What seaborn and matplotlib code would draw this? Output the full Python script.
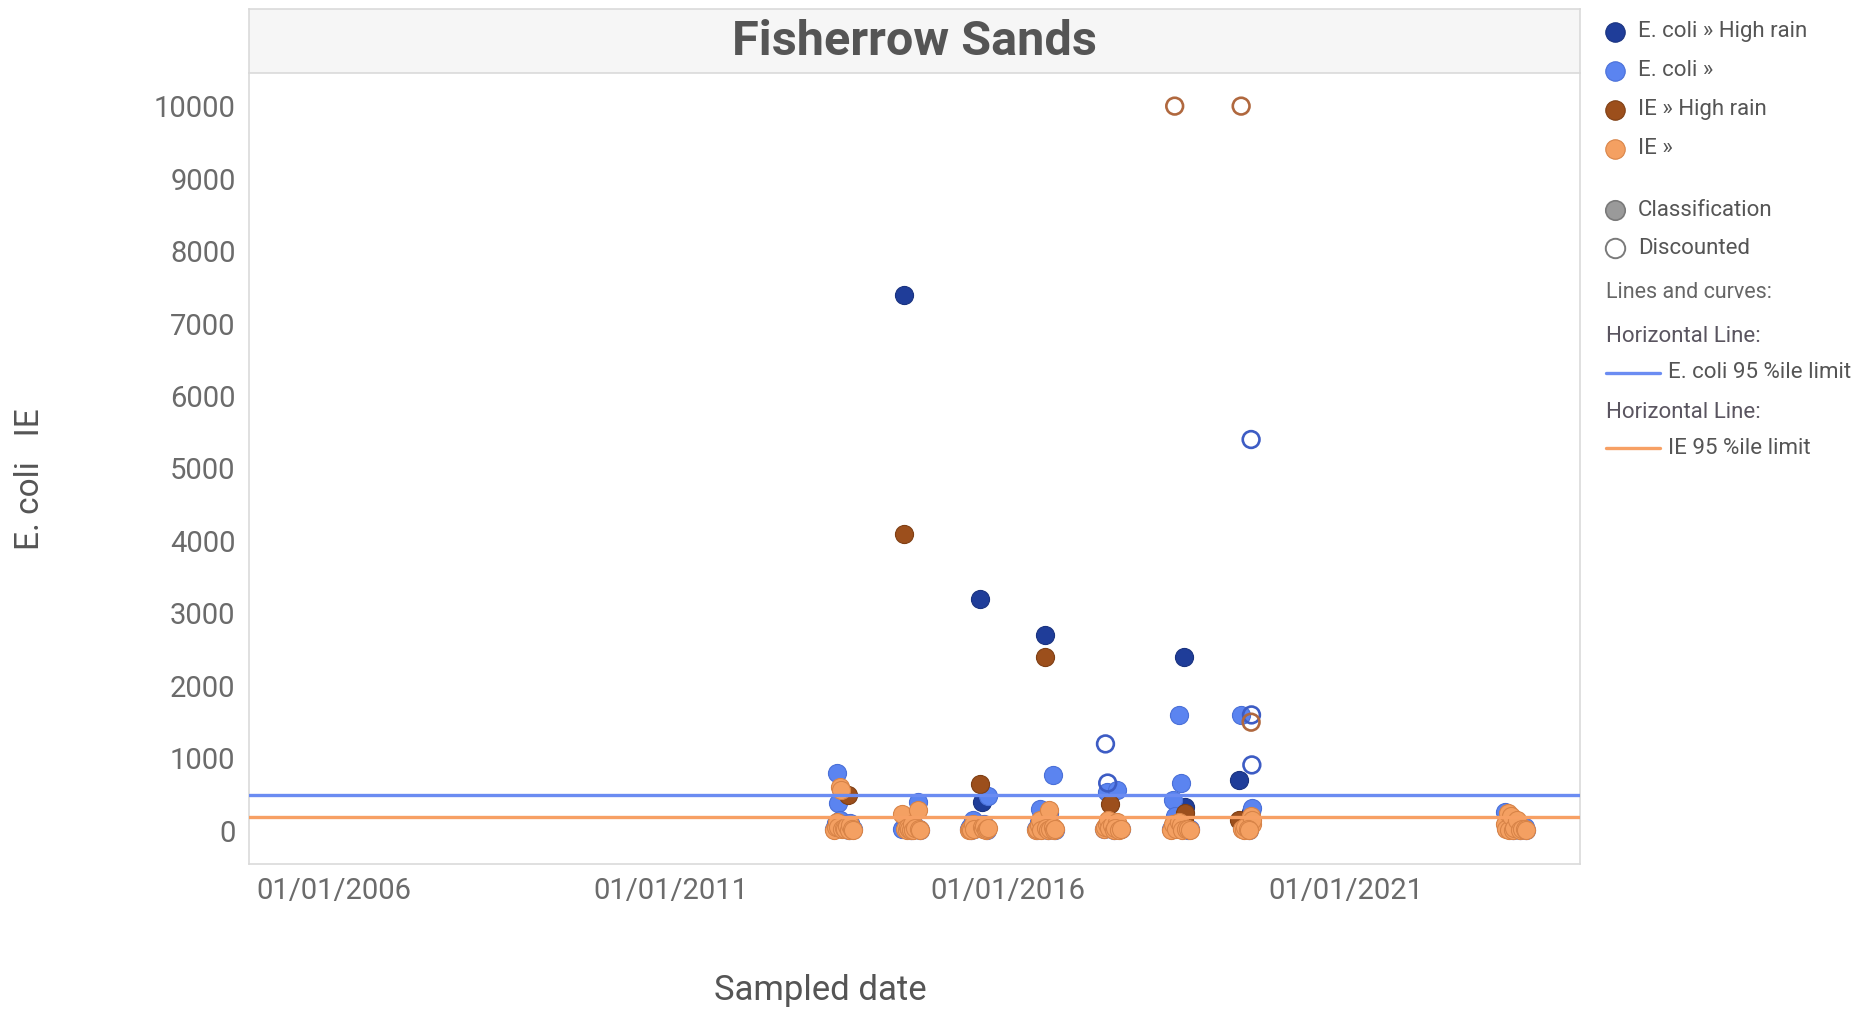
import pandas as pd
import numpy as np
import matplotlib
matplotlib.use("Agg")
import matplotlib.pyplot as plt
import matplotlib.dates as mdates
from matplotlib.lines import Line2D
import seaborn as sns

# one entry per sample, grouped by bathing season
sample_dates = [
    "2013-06-03", "2013-06-11", "2013-06-17", "2013-06-25", "2013-07-02", "2013-07-09", "2013-07-17", "2013-07-24",
    "2013-07-31", "2013-08-08", "2013-08-15", "2013-08-22", "2013-08-29", "2013-09-05", "2013-09-12",
    "2014-06-02", "2014-06-15", "2014-06-23", "2014-06-30", "2014-07-07", "2014-07-14", "2014-07-21", "2014-07-28",
    "2014-08-05", "2014-08-12", "2014-08-28", "2014-09-02", "2014-09-10",
    "2015-06-01", "2015-06-09", "2015-06-16", "2015-06-23", "2015-07-01", "2015-07-30", "2015-08-12", "2015-08-10",
    "2015-08-18", "2015-08-25", "2015-09-01", "2015-09-08", "2015-09-14",
    "2016-05-31", "2016-06-07", "2016-06-14", "2016-06-21", "2016-06-28", "2016-07-17", "2016-07-26", "2016-08-02",
    "2016-08-09", "2016-08-17", "2016-09-01", "2016-09-06", "2016-09-13",
    "2017-06-01", "2017-06-11", "2017-06-18", "2017-06-23", "2017-06-29", "2017-07-06", "2017-07-17", "2017-08-14",
    "2017-07-25", "2017-08-03", "2017-08-24", "2017-09-05",
    "2018-06-01", "2018-06-10", "2018-06-21", "2018-06-28", "2018-07-17", "2018-07-24", "2018-08-01", "2018-08-12",
    "2018-08-16", "2018-08-23", "2018-09-02", "2018-09-10",
    "2019-06-02", "2019-06-16", "2019-06-23", "2019-06-30", "2019-07-07", "2019-08-09", "2019-08-11", "2019-08-13",
    "2019-08-14", "2019-08-06", "2019-07-21", "2019-07-28",
    "2023-05-16", "2023-05-23", "2023-06-01", "2023-06-08", "2023-06-15", "2023-06-29", "2023-07-06", "2023-07-20",
    "2023-08-03", "2023-08-17", "2023-08-31", "2023-09-06",
]
ecoli_values = [
    20, 110, 800, 386, 150, 100, 40, 60, 20, 90, 60, 10, 110, 30, 20,
    30, 7400, 60, 20, 100, 40, 10, 150, 20, 50, 400, 30, 10,
    20, 60, 10, 150, 30, 3200, 400, 50, 40, 100, 20, 10, 480,
    30, 10, 120, 300, 20, 2700, 60, 10, 250, 40, 770, 20, 10,
    30, 1200, 540, 660, 100, 125, 40, 565, 10, 60, 20, 30,
    20, 430, 200, 60, 1600, 660, 20, 2400, 330, 40, 10, 30,
    700, 1600, 40, 20, 100, 5400, 1600, 910, 320, 260, 30, 10,
    260, 40, 100, 20, 180, 10, 60, 30, 10, 20, 50, 10,
]
ie_values = [
    10, 60, 120, 60, 600, 560, 30, 40, 20, 70, 500, 10, 80, 20, 10,
    230, 4100, 30, 10, 60, 30, 10, 90, 10, 40, 290, 20, 10,
    10, 30, 10, 100, 20, 640, 80, 60, 30, 70, 10, 20, 40,
    10, 20, 80, 150, 10, 2400, 40, 10, 290, 30, 60, 10, 20,
    20, 60, 100, 150, 40, 370, 80, 120, 10, 40, 10, 20,
    10, 100, 10000, 30, 120, 80, 10, 150, 250, 20, 30, 10,
    150, 10000, 30, 10, 60, 1500, 200, 100, 150, 120, 20, 10,
    100, 20, 250, 10, 200, 10, 40, 150, 10, 20, 30, 10,
]
high_rain = [
    0, 0, 0, 0, 0, 0, 0, 0, 0, 0, 1, 0, 0, 0, 0,
    0, 1, 0, 0, 0, 0, 0, 0, 0, 0, 0, 0, 0,
    0, 0, 0, 0, 0, 1, 1, 0, 0, 0, 0, 0, 0,
    0, 0, 0, 0, 0, 1, 0, 0, 0, 0, 0, 0, 0,
    0, 0, 0, 0, 0, 1, 0, 0, 0, 0, 0, 0,
    0, 0, 0, 0, 0, 0, 0, 1, 1, 0, 0, 0,
    1, 0, 0, 0, 0, 0, 0, 0, 0, 1, 0, 0,
    0, 0, 0, 0, 0, 0, 0, 0, 0, 0, 0, 0,
]
ecoli_discounted = [
    0, 0, 0, 0, 0, 0, 0, 0, 0, 0, 0, 0, 0, 0, 0,
    0, 0, 0, 0, 0, 0, 0, 0, 0, 0, 0, 0, 0,
    0, 0, 0, 0, 0, 0, 0, 0, 0, 0, 0, 0, 0,
    0, 0, 0, 0, 0, 0, 0, 0, 0, 0, 0, 0, 0,
    0, 1, 0, 1, 0, 0, 0, 0, 0, 0, 0, 0,
    0, 0, 0, 0, 0, 0, 0, 0, 0, 0, 0, 0,
    0, 0, 0, 0, 0, 1, 1, 1, 0, 0, 0, 0,
    0, 0, 0, 0, 0, 0, 0, 0, 0, 0, 0, 0,
]
ie_discounted = [
    0, 0, 0, 0, 0, 0, 0, 0, 0, 0, 0, 0, 0, 0, 0,
    0, 0, 0, 0, 0, 0, 0, 0, 0, 0, 0, 0, 0,
    0, 0, 0, 0, 0, 0, 0, 0, 0, 0, 0, 0, 0,
    0, 0, 0, 0, 0, 0, 0, 0, 0, 0, 0, 0, 0,
    0, 0, 0, 0, 0, 0, 0, 0, 0, 0, 0, 0,
    0, 0, 1, 0, 0, 0, 0, 0, 0, 0, 0, 0,
    0, 1, 0, 0, 0, 1, 0, 0, 0, 0, 0, 0,
    0, 0, 0, 0, 0, 0, 0, 0, 0, 0, 0, 0,
]

ecoli_limit = 500
ie_limit = 185

series_order = ["E. coli » High rain", "E. coli »", "IE » High rain", "IE »"]
fill_colors = ["#1f3d99", "#5b84f0", "#9c4f1c", "#f4a062"]
edge_colors = ["#1a3380", "#4a70d8", "#7f3f14", "#d88448"]
ring_colors = ["#3d5cc4", "#3d5cc4", "#b0683e", "#b0683e"]

x_tick_dates = ["2006-01-01", "2011-01-01", "2016-01-01", "2021-01-01"]

# build long table
dates = pd.to_datetime(sample_dates)
df_e = pd.DataFrame({"date": dates, "value": ecoli_values, "rain": high_rain,
                     "disc": ecoli_discounted, "param": "E. coli"})
df_i = pd.DataFrame({"date": dates, "value": ie_values, "rain": high_rain,
                     "disc": ie_discounted, "param": "IE"})
df = pd.concat([df_e, df_i], ignore_index=True)
df["series"] = df["param"] + " »" + np.where(df["rain"] == 1, " High rain", "")

sns.set_theme(style="white")
plt.rcParams["font.family"] = ["Roboto", "DejaVu Sans"]

fig = plt.figure(figsize=(18.56, 10.11), dpi=100)
ax = fig.add_axes([0.134, 0.1454, 0.7175, 0.7824])

for i, name in enumerate(series_order):
    sub = df[df["series"] == name]
    filled = sub[sub["disc"] == 0]
    hollow = sub[sub["disc"] == 1]
    sns.scatterplot(data=filled, x="date", y="value", color=fill_colors[i],
                    edgecolor=edge_colors[i], linewidth=0.8, s=170, ax=ax,
                    legend=False, zorder=3 + i)
    if len(hollow):
        sns.scatterplot(data=hollow, x="date", y="value", color="none",
                        edgecolor=ring_colors[i], linewidth=1.9, s=145, ax=ax,
                        legend=False, zorder=3 + i)

ax.axhline(ecoli_limit, color="#6b8cf2", lw=2.4, zorder=10)
ax.axhline(ie_limit, color="#f7a064", lw=2.4, zorder=10)

ax.set_xlim(pd.Timestamp("2004-09-25"), pd.Timestamp("2024-06-27"))
ax.set_ylim(-457, 10457)
ax.set_yticks(range(0, 10001, 1000))
ax.set_xticks(pd.to_datetime(x_tick_dates))
ax.xaxis.set_major_formatter(mdates.DateFormatter("%d/%m/%Y"))
ax.tick_params(axis="both", labelsize=21, labelcolor="#6b6b6b", color="#cfcfcf",
               length=6, width=1, direction="out")
ax.tick_params(axis="x", pad=3)
ax.set_xlabel("")
ax.set_ylabel("")
for side in ["left", "bottom", "right"]:
    ax.spines[side].set_color("#dadada")
    ax.spines[side].set_linewidth(1.2)
ax.spines["top"].set_visible(False)

# title band
tax = fig.add_axes([0.134, 0.9278, 0.7175, 0.0633])
tax.set_facecolor("#f6f6f6")
tax.set_xticks([])
tax.set_yticks([])
for side in tax.spines:
    tax.spines[side].set_color("#dadada")
    tax.spines[side].set_linewidth(1.2)
tax.text(0.5, 0.48, "Fisherrow Sands", ha="center", va="center", fontsize=35,
         fontweight="bold", color="#555555", transform=tax.transAxes)

fig.text(0.016, 0.526, "E. coli   IE", rotation=90, ha="center", va="center",
         fontsize=24, color="#555555")
fig.text(0.4418, 0.0198, "Sampled date", ha="center", va="center", fontsize=25,
         color="#555555")

# legend
def fy(px):
    return 1 - px / 1011

mx, tx = 1615 / 1856, 1638 / 1856
rows = [32, 71, 110, 149]
for i, name in enumerate(series_order):
    fig.add_artist(Line2D([mx], [fy(rows[i])], marker="o", markersize=14, linestyle="none",
                          markerfacecolor=fill_colors[i], markeredgecolor=edge_colors[i],
                          markeredgewidth=0.8, transform=fig.transFigure))
    fig.text(tx, fy(rows[i]), name, fontsize=16, color="#555555", va="center")

fig.add_artist(Line2D([mx], [fy(210)], marker="o", markersize=14, linestyle="none",
                      markerfacecolor="#9a9a9a", markeredgecolor="#7a7a7a",
                      markeredgewidth=1.2, transform=fig.transFigure))
fig.text(tx, fy(210), "Classification", fontsize=16, color="#555555", va="center")
fig.add_artist(Line2D([mx], [fy(248)], marker="o", markersize=14, linestyle="none",
                      markerfacecolor="white", markeredgecolor="#7a7a7a",
                      markeredgewidth=1.4, transform=fig.transFigure))
fig.text(tx, fy(248), "Discounted", fontsize=16, color="#555555", va="center")

lx0, lx1, ltx = 1606 / 1856, 1660 / 1856, 1668 / 1856
fig.text(lx0, fy(293), "Lines and curves:", fontsize=15.5, color="#666666", va="center")
fig.text(lx0, fy(337), "Horizontal Line:", fontsize=16, color="#5a5560", va="center")
fig.add_artist(Line2D([lx0, lx1], [fy(373), fy(373)], color="#6b8cf2", lw=2.4,
                      transform=fig.transFigure))
fig.text(ltx, fy(373), "E. coli 95 %ile limit", fontsize=16, color="#555555", va="center")
fig.text(lx0, fy(413), "Horizontal Line:", fontsize=16, color="#5a5560", va="center")
fig.add_artist(Line2D([lx0, lx1], [fy(448), fy(448)], color="#f7a064", lw=2.4,
                      transform=fig.transFigure))
fig.text(ltx, fy(448), "IE 95 %ile limit", fontsize=16, color="#555555", va="center")

fig.savefig("out.png", dpi=100)
